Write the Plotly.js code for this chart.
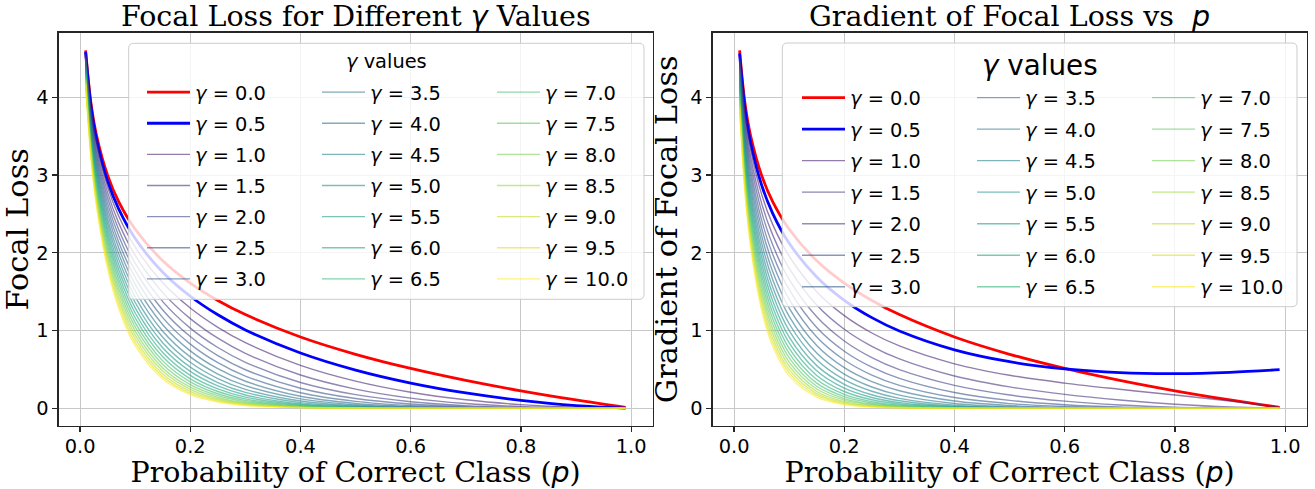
<!DOCTYPE html>
<html>
<head>
<meta charset="utf-8">
<script src="https://cdn.plot.ly/plotly-3.0.1.min.js"></script>
<style>
html, body { margin: 0; padding: 0; background: #ffffff; }
#chart { width: 1315px; height: 489px; }
</style>
</head>
<body>
<div id="chart"></div>
<script>
// ---------------- data ----------------
const pValues = [0.01, 0.02, 0.03, 0.05, 0.07, 0.1, 0.15, 0.2, 0.25, 0.3, 0.4, 0.5, 0.6, 0.7, 0.8, 0.9, 0.99];
const gammaValues = [0, 0.5, 1, 1.5, 2, 2.5, 3, 3.5, 4, 4.5, 5, 5.5, 6, 6.5, 7, 7.5, 8, 8.5, 9, 9.5, 10];
const xTickValues = [0, 0.2, 0.4, 0.6, 0.8, 1.0];
const xTickLabels = ['0.0', '0.2', '0.4', '0.6', '0.8', '1.0'];
const yTickValues = [0, 1, 2, 3, 4];
const yTickLabels = ['0', '1', '2', '3', '4'];

// Focal loss curves (left panel), one array per gamma
const fl00 = [4.605, 3.912, 3.507, 2.996, 2.659, 2.303, 1.897, 1.609, 1.386, 1.204, 0.916, 0.693, 0.511, 0.357, 0.223, 0.105, 0.010];
const fl05 = [4.582, 3.873, 3.454, 2.920, 2.565, 2.184, 1.749, 1.440, 1.201, 1.007, 0.710, 0.490, 0.323, 0.195, 0.100, 0.033, 0.001];
const fl10 = [4.559, 3.834, 3.401, 2.846, 2.473, 2.072, 1.613, 1.288, 1.040, 0.843, 0.550, 0.347, 0.204, 0.107, 0.045, 0.011, 0.000];
const fl15 = [4.536, 3.795, 3.350, 2.774, 2.385, 1.966, 1.487, 1.152, 0.900, 0.705, 0.426, 0.245, 0.129, 0.059, 0.020, 0.003, 0];
const fl20 = [4.514, 3.757, 3.299, 2.704, 2.300, 1.865, 1.371, 1.030, 0.780, 0.590, 0.330, 0.173, 0.082, 0.032, 0.009, 0.001, 0];
const fl25 = [4.491, 3.719, 3.250, 2.635, 2.218, 1.769, 1.264, 0.921, 0.675, 0.494, 0.256, 0.123, 0.052, 0.018, 0.004, 0.000, 0];
const fl30 = [4.468, 3.682, 3.200, 2.568, 2.139, 1.679, 1.165, 0.824, 0.585, 0.413, 0.198, 0.087, 0.033, 0.010, 0.002, 0, 0];
const fl35 = [4.446, 3.645, 3.152, 2.503, 2.063, 1.592, 1.074, 0.737, 0.507, 0.346, 0.153, 0.061, 0.021, 0.005, 0.001, 0, 0];
const fl40 = [4.424, 3.608, 3.104, 2.440, 1.989, 1.511, 0.990, 0.659, 0.439, 0.289, 0.119, 0.043, 0.013, 0.003, 0.000, 0, 0];
const fl45 = [4.402, 3.572, 3.057, 2.378, 1.918, 1.433, 0.913, 0.590, 0.380, 0.242, 0.092, 0.031, 0.008, 0.002, 0, 0, 0];
const fl50 = [4.379, 3.536, 3.011, 2.318, 1.850, 1.360, 0.842, 0.527, 0.329, 0.202, 0.071, 0.022, 0.005, 0.001, 0, 0, 0];
const fl55 = [4.358, 3.501, 2.966, 2.259, 1.784, 1.290, 0.776, 0.472, 0.285, 0.169, 0.055, 0.015, 0.003, 0.000, 0, 0, 0];
const fl60 = [4.336, 3.465, 2.921, 2.202, 1.721, 1.224, 0.716, 0.422, 0.247, 0.142, 0.043, 0.011, 0.002, 0, 0, 0, 0];
const fl65 = [4.314, 3.431, 2.877, 2.146, 1.659, 1.161, 0.660, 0.377, 0.214, 0.119, 0.033, 0.008, 0.001, 0, 0, 0, 0];
const fl70 = [4.292, 3.396, 2.833, 2.092, 1.600, 1.101, 0.608, 0.338, 0.185, 0.099, 0.026, 0.005, 0.001, 0, 0, 0, 0];
const fl75 = [4.271, 3.362, 2.790, 2.039, 1.543, 1.045, 0.561, 0.302, 0.160, 0.083, 0.020, 0.004, 0.000, 0, 0, 0, 0];
const fl80 = [4.249, 3.328, 2.748, 1.987, 1.488, 0.991, 0.517, 0.270, 0.139, 0.069, 0.015, 0.003, 0, 0, 0, 0, 0];
const fl85 = [4.228, 3.295, 2.707, 1.937, 1.435, 0.940, 0.477, 0.242, 0.120, 0.058, 0.012, 0.002, 0, 0, 0, 0, 0];
const fl90 = [4.207, 3.262, 2.666, 1.888, 1.384, 0.892, 0.439, 0.216, 0.104, 0.049, 0.009, 0.001, 0, 0, 0, 0, 0];
const fl95 = [4.186, 3.229, 2.626, 1.840, 1.335, 0.846, 0.405, 0.193, 0.090, 0.041, 0.007, 0.001, 0, 0, 0, 0, 0];
const fl100 = [4.165, 3.196, 2.586, 1.794, 1.287, 0.803, 0.374, 0.173, 0.078, 0.034, 0.006, 0.001, 0, 0, 0, 0, 0];

// Gradient curves (right panel), one array per gamma
const gr00 = [4.605, 3.912, 3.507, 2.996, 2.659, 2.303, 1.897, 1.609, 1.386, 1.204, 0.916, 0.693, 0.511, 0.357, 0.223, 0.105, 0.010];
const gr05 = [4.564, 3.844, 3.416, 2.871, 2.508, 2.122, 1.688, 1.388, 1.165, 0.993, 0.750, 0.597, 0.504, 0.457, 0.445, 0.461, 0.495];
const gr10 = [4.524, 3.777, 3.328, 2.751, 2.365, 1.955, 1.498, 1.190, 0.967, 0.800, 0.570, 0.423, 0.322, 0.242, 0.169, 0.091, 0.010];
const gr15 = [4.483, 3.711, 3.242, 2.636, 2.230, 1.800, 1.328, 1.016, 0.796, 0.634, 0.414, 0.274, 0.177, 0.104, 0.050, 0.014, 0.000];
const gr20 = [4.443, 3.646, 3.159, 2.526, 2.102, 1.656, 1.175, 0.864, 0.650, 0.495, 0.292, 0.168, 0.090, 0.041, 0.013, 0.002, 0];
const gr25 = [4.403, 3.582, 3.077, 2.420, 1.981, 1.524, 1.037, 0.732, 0.527, 0.383, 0.201, 0.100, 0.044, 0.015, 0.003, 0.000, 0];
const gr30 = [4.364, 3.520, 2.998, 2.318, 1.867, 1.401, 0.915, 0.619, 0.425, 0.293, 0.136, 0.058, 0.021, 0.005, 0.001, 0, 0];
const gr35 = [4.325, 3.458, 2.921, 2.221, 1.759, 1.287, 0.806, 0.521, 0.341, 0.223, 0.091, 0.033, 0.009, 0.002, 0.000, 0, 0];
const gr40 = [4.287, 3.398, 2.845, 2.127, 1.657, 1.182, 0.709, 0.438, 0.272, 0.168, 0.060, 0.018, 0.004, 0.001, 0, 0, 0];
const gr45 = [4.248, 3.338, 2.772, 2.037, 1.560, 1.086, 0.623, 0.367, 0.217, 0.126, 0.039, 0.010, 0.002, 0.000, 0, 0, 0];
const gr50 = [4.210, 3.280, 2.700, 1.952, 1.469, 0.997, 0.547, 0.307, 0.172, 0.095, 0.026, 0.006, 0.001, 0, 0, 0, 0];
const gr55 = [4.173, 3.222, 2.630, 1.869, 1.383, 0.914, 0.480, 0.256, 0.136, 0.070, 0.017, 0.003, 0.000, 0, 0, 0, 0];
const gr60 = [4.136, 3.166, 2.562, 1.790, 1.302, 0.839, 0.420, 0.214, 0.107, 0.052, 0.011, 0.002, 0, 0, 0, 0, 0];
const gr65 = [4.099, 3.110, 2.495, 1.714, 1.226, 0.769, 0.368, 0.178, 0.084, 0.039, 0.007, 0.001, 0, 0, 0, 0, 0];
const gr70 = [4.062, 3.056, 2.430, 1.641, 1.154, 0.705, 0.322, 0.148, 0.066, 0.029, 0.004, 0.000, 0, 0, 0, 0, 0];
const gr75 = [4.026, 3.002, 2.368, 1.571, 1.086, 0.646, 0.281, 0.123, 0.052, 0.021, 0.003, 0.000, 0, 0, 0, 0, 0];
const gr80 = [3.990, 2.950, 2.306, 1.504, 1.021, 0.591, 0.246, 0.102, 0.041, 0.015, 0.002, 0, 0, 0, 0, 0, 0];
const gr85 = [3.954, 2.898, 2.246, 1.440, 0.961, 0.542, 0.214, 0.084, 0.032, 0.011, 0.001, 0, 0, 0, 0, 0, 0];
const gr90 = [3.919, 2.847, 2.188, 1.378, 0.904, 0.496, 0.187, 0.070, 0.025, 0.008, 0.001, 0, 0, 0, 0, 0, 0];
const gr95 = [3.884, 2.797, 2.131, 1.319, 0.850, 0.454, 0.163, 0.057, 0.019, 0.006, 0.000, 0, 0, 0, 0, 0, 0];
const gr100 = [3.849, 2.748, 2.075, 1.263, 0.799, 0.415, 0.142, 0.047, 0.015, 0.004, 0.000, 0, 0, 0, 0, 0, 0];

const focalLossSeries = [fl00, fl05, fl10, fl15, fl20, fl25, fl30, fl35, fl40, fl45, fl50, fl55, fl60, fl65, fl70, fl75, fl80, fl85, fl90, fl95, fl100];
const gradientSeries = [gr00, gr05, gr10, gr15, gr20, gr25, gr30, gr35, gr40, gr45, gr50, gr55, gr60, gr65, gr70, gr75, gr80, gr85, gr90, gr95, gr100];

// ---------------- styles ----------------
const lineColors = ['#ff0000', '#0000ff',
  '#482475', '#463480', '#414487', '#3b528b', '#355f8d', '#2f6c8e', '#2a788e', '#25848e', '#21918c',
  '#1e9c89', '#22a884', '#2fb47c', '#44bf70', '#5ec962', '#7ad151', '#9bd93c', '#bddf26', '#dfe318', '#fde725'];

const W = 1315, H = 489;
const fx = v => v / W;
const fy = v => 1 - v / H;
const sansFont = 'DejaVu Sans, sans-serif';
const serifFont = 'DejaVu Serif, serif';
const mathI = s => '<span style="font-family:DejaVu Sans"><i>' + s + '</i></span>';

function colorFor(i) {
  if (i < 2) return lineColors[i];
  const h = lineColors[i];
  const r = parseInt(h.slice(1, 3), 16), g = parseInt(h.slice(3, 5), 16), b = parseInt(h.slice(5, 7), 16);
  return 'rgba(' + r + ',' + g + ',' + b + ',0.6)';
}

const leftLegends = ['legend', 'legend2', 'legend3'];
const rightLegends = ['legend4', 'legend5', 'legend6'];

const traces = [];
function addTraces(series, xa, ya, legendIds, tag) {
  series.forEach((vals, i) => {
    traces.push({
      type: 'scatter', mode: 'lines',
      x: pValues, y: vals,
      xaxis: xa, yaxis: ya,
      name: mathI('γ') + ' = ' + gammaValues[i].toFixed(1),
      legend: legendIds[Math.floor(i / 7)],
      legendgroup: tag + i,
      line: { color: colorFor(i), width: i < 2 ? 2.8 : 1.4, shape: 'spline', smoothing: 1 },
      hoverinfo: 'skip'
    });
  });
}
addTraces(focalLossSeries, 'x', 'y', leftLegends, 'L');
addTraces(gradientSeries, 'x2', 'y2', rightLegends, 'R');

const axisBase = {
  showline: true, mirror: true, linecolor: '#262626', linewidth: 1.2,
  ticks: 'outside', ticklen: 5, tickwidth: 1.2, tickcolor: '#262626',
  showgrid: true, gridcolor: '#c8c8c8', gridwidth: 1.1, zeroline: false,
  tickfont: { family: sansFont, size: 19.4, color: '#000' }
};
const xTitle = 'Probability of Correct Class (' + mathI('p') + ')';

function xAxis(d0, d1, anchor) {
  return Object.assign({}, axisBase, {
    domain: [fx(d0), fx(d1)], range: [-0.039, 1.039], anchor: anchor,
    tickmode: 'array', tickvals: xTickValues, ticktext: xTickLabels,
    ticklabelstandoff: -2,
    title: { text: xTitle, font: { family: serifFont, size: 28.5, color: '#000' }, standoff: 12 }
  });
}
function yAxis(anchor, titleText) {
  return Object.assign({}, axisBase, {
    domain: [fy(426), fy(32.5)], range: [-0.2303, 4.8355], anchor: anchor,
    tickmode: 'array', tickvals: yTickValues, ticktext: yTickLabels,
    title: { text: titleText, font: { family: serifFont, size: 30.5, color: '#000' }, standoff: 3 }
  });
}

function legendCfg(xpx, ypx, gap) {
  return {
    x: fx(xpx), y: fy(ypx), xanchor: 'left', yanchor: 'top',
    bgcolor: 'rgba(0,0,0,0)', borderwidth: 0,
    font: { family: sansFont, size: 19.4, color: '#000' },
    traceorder: 'grouped', tracegroupgap: gap, orientation: 'v',
    itemwidth: 43
  };
}

function roundBox(x0, y0, x1, y1, r) {
  const X = fx, Y = fy;
  return 'M' + X(x0 + r) + ',' + Y(y0) + ' L' + X(x1 - r) + ',' + Y(y0) +
    ' Q' + X(x1) + ',' + Y(y0) + ' ' + X(x1) + ',' + Y(y0 + r) +
    ' L' + X(x1) + ',' + Y(y1 - r) +
    ' Q' + X(x1) + ',' + Y(y1) + ' ' + X(x1 - r) + ',' + Y(y1) +
    ' L' + X(x0 + r) + ',' + Y(y1) +
    ' Q' + X(x0) + ',' + Y(y1) + ' ' + X(x0) + ',' + Y(y1 - r) +
    ' L' + X(x0) + ',' + Y(y0 + r) +
    ' Q' + X(x0) + ',' + Y(y0) + ' ' + X(x0 + r) + ',' + Y(y0) + ' Z';
}

const layout = {
  width: W, height: H,
  margin: { l: 0, r: 0, t: 0, b: 0 },
  paper_bgcolor: '#ffffff', plot_bgcolor: '#ffffff',
  showlegend: true,
  xaxis: xAxis(58.6, 652.6, 'y'),
  yaxis: yAxis('x', 'Focal Loss'),
  xaxis2: xAxis(712.6, 1306.6, 'y2'),
  yaxis2: yAxis('x2', 'Gradient of Focal Loss'),
  legend: legendCfg(142, 73, 2.9),
  legend2: legendCfg(317, 73, 2.9),
  legend3: legendCfg(492, 73, 2.9),
  legend4: legendCfg(797, 78.5, 3.3),
  legend5: legendCfg(972, 78.5, 3.3),
  legend6: legendCfg(1147, 78.5, 3.3),
  shapes: [
    { type: 'path', xref: 'paper', yref: 'paper', layer: 'above', path: roundBox(128.7, 43.3, 644, 299.3, 5),
      fillcolor: 'rgba(255,255,255,0.8)', line: { color: '#cccccc', width: 1 } },
    { type: 'path', xref: 'paper', yref: 'paper', layer: 'above', path: roundBox(782.3, 43, 1297, 306.7, 5),
      fillcolor: 'rgba(255,255,255,0.8)', line: { color: '#cccccc', width: 1 } }
  ],
  annotations: [
    { xref: 'paper', yref: 'paper', x: fx(355.6), y: fy(17), xanchor: 'center', yanchor: 'middle', showarrow: false,
      text: 'Focal Loss for Different ' + mathI('γ') + ' Values', font: { family: serifFont, size: 28.5, color: '#000' } },
    { xref: 'paper', yref: 'paper', x: fx(1009.6), y: fy(17), xanchor: 'center', yanchor: 'middle', showarrow: false,
      text: 'Gradient of Focal Loss vs\u00a0\u00a0' + mathI('p'), font: { family: serifFont, size: 28.5, color: '#000' } },
    { xref: 'paper', yref: 'paper', x: fx(386.4), y: fy(61.7), xanchor: 'center', yanchor: 'middle', showarrow: false,
      text: mathI('γ') + ' values', font: { family: sansFont, size: 19.4, color: '#000' } },
    { xref: 'paper', yref: 'paper', x: fx(1039.7), y: fy(65), xanchor: 'center', yanchor: 'middle', showarrow: false,
      text: mathI('γ') + ' values', font: { family: sansFont, size: 27.8, color: '#000' } }
  ]
};

Plotly.newPlot('chart', traces, layout, { staticPlot: true, displayModeBar: false });
</script>
</body>
</html>
